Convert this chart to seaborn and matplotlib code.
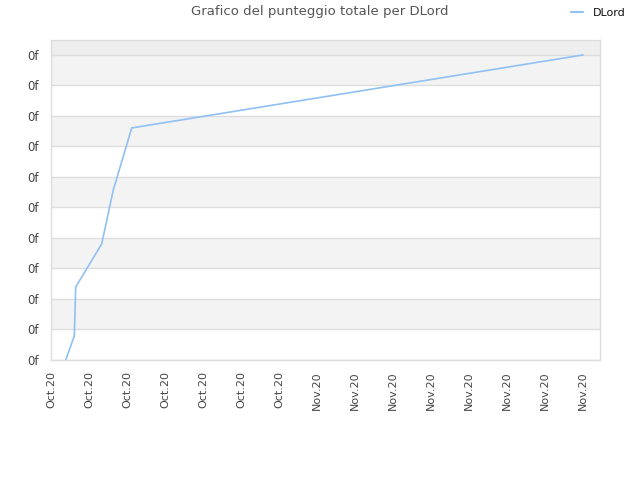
import matplotlib
matplotlib.use("Agg")
import matplotlib.pyplot as plt
import seaborn as sns
import pandas as pd
from matplotlib.lines import Line2D

# data
x_pos = [0.387, 0.613, 0.650, 1.334, 1.639, 2.124, 14.0]
scores = [0.0, 0.787, 2.393, 3.803, 5.574, 7.607, 10.0]
player = "DLord"
x_tick_labels = ["Oct.20"] * 7 + ["Nov.20"] * 8
y_tick_values = list(range(11))
y_tick_labels = ["0f"] * 11
title = "Grafico del punteggio totale per DLord"

sns.set_style("white")
plt.rcParams['font.family'] = ['DejaVu Sans']

df = pd.DataFrame({"x": x_pos, "score": scores, "player": [player] * len(x_pos)})

fig = plt.figure(figsize=(6.4, 4.8), dpi=100)
ax = fig.add_axes([51 / 640, 120 / 480, 549 / 640, 320 / 480])

ymax = 10.49
# alternating bands
for k in range(1, 10, 2):
    ax.axhspan(k, k + 1, color="#f3f3f3", zorder=0, lw=0)
ax.axhspan(10, ymax, color="#eeeeee", zorder=0, lw=0)
for v in y_tick_values:
    ax.axhline(v, color="#dddddd", lw=1, zorder=1)

sns.lineplot(data=df, x="x", y="score", hue="player", palette=["#90c0f4"],
             ax=ax, linewidth=1.2, legend=False, zorder=3, estimator=None, sort=False)

ax.set_xlim(0, 549 / 38)
ax.set_ylim(0, ymax)
ax.set_xticks(range(len(x_tick_labels)))
ax.set_xticklabels(x_tick_labels, rotation=90, fontsize=8, color="#444444")
ax.set_yticks(y_tick_values)
ax.set_yticklabels(y_tick_labels, fontsize=8.5, color="#444444")
ax.tick_params(axis="x", length=0, pad=8)
ax.tick_params(axis="y", length=0, pad=9)
ax.set_xlabel("")
ax.set_ylabel("")
for s in ax.spines.values():
    s.set_color("#dddddd")
    s.set_linewidth(1)

fig.text(0.5, 1 - 12 / 480, title, ha="center", va="center", fontsize=9.5, color="#555555")

handle = Line2D([], [], color="#90c0f4", lw=1.5)
fig.legend([handle], [player], loc="center right", bbox_to_anchor=(636 / 640, 1 - 13 / 480),
           frameon=False, fontsize=8, handlelength=1.1, handletextpad=0.9,
           labelcolor="#111111")

fig.savefig("out.png", dpi=100)
